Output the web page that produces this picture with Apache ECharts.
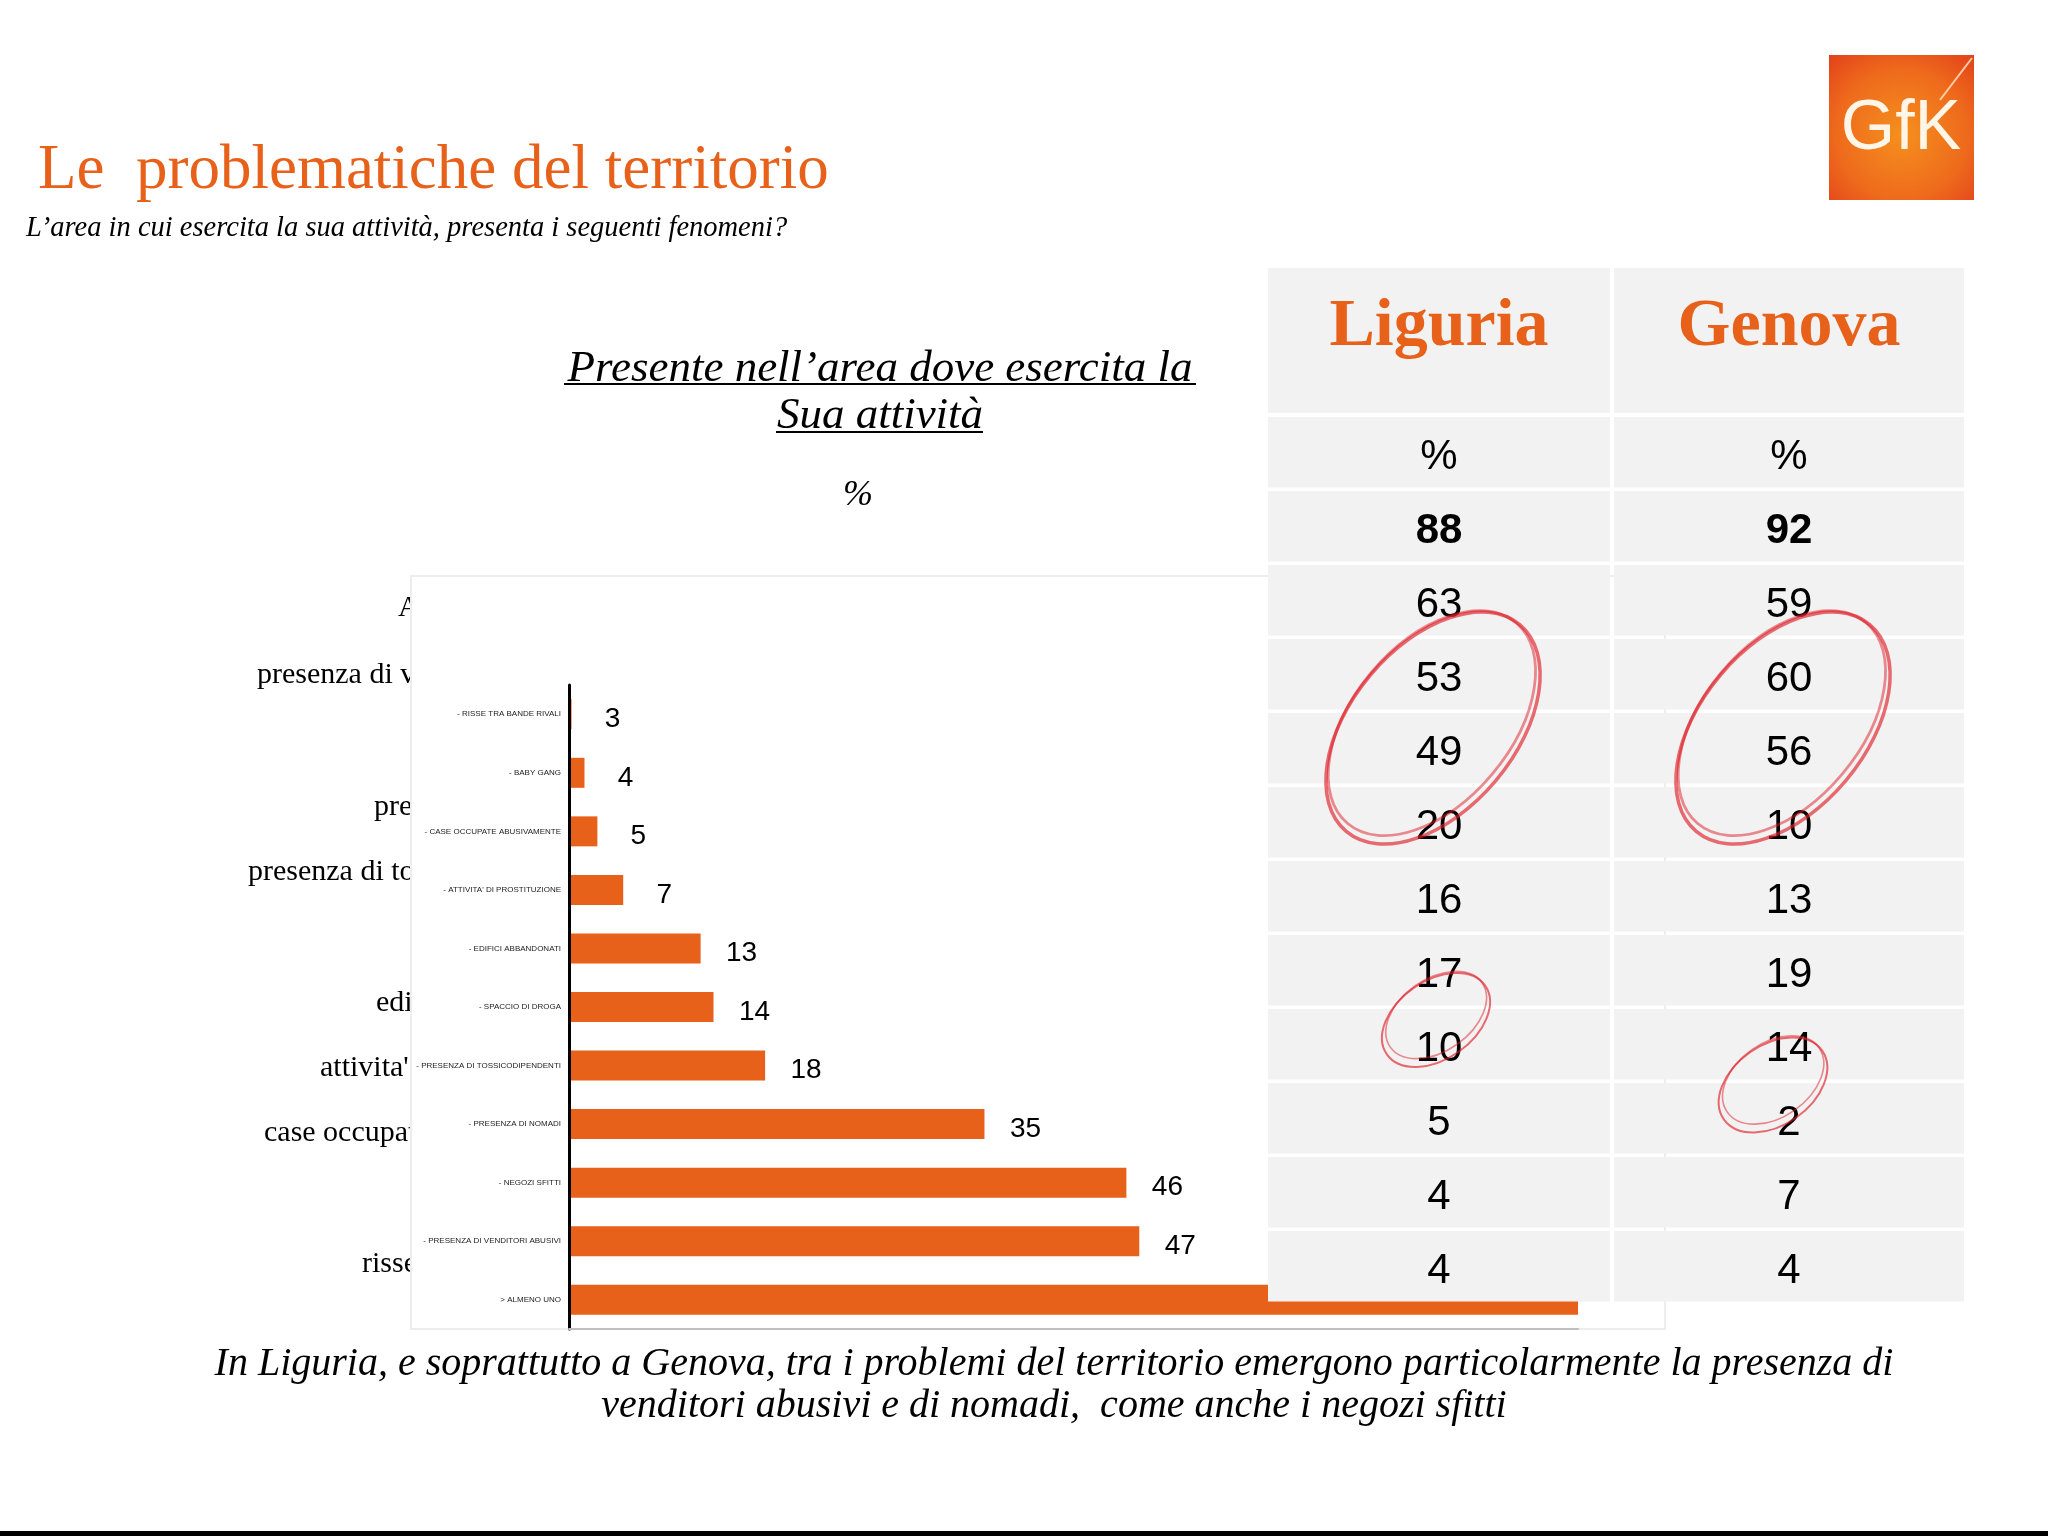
<!DOCTYPE html>
<html>
<head>
<meta charset="utf-8">
<script src="https://cdn.jsdelivr.net/npm/echarts@6/dist/echarts.min.js"></script>
<style>
  html, body { margin: 0; padding: 0; background: #fff; }
  #main { width: 2048px; height: 1536px; }
</style>
</head>
<body>
<div id="main"></div>
<script>
// bar chart (top to bottom)
const categories = [
  '- RISSE TRA BANDE RIVALI',
  '- BABY GANG',
  '- CASE OCCUPATE ABUSIVAMENTE',
  "- ATTIVITA' DI PROSTITUZIONE",
  '- EDIFICI ABBANDONATI',
  '- SPACCIO DI DROGA',
  '- PRESENZA DI TOSSICODIPENDENTI',
  '- PRESENZA DI NOMADI',
  '- NEGOZI SFITTI',
  '- PRESENZA DI VENDITORI ABUSIVI',
  '> ALMENO UNO'
];
const values = [3, 4, 5, 7, 13, 14, 18, 35, 46, 47, 81];

// table on the right
const tableHead = ['Liguria', 'Genova'];
const liguria = ['%', 88, 63, 53, 49, 20, 16, 17, 10, 5, 4, 4];
const genova = ['%', 92, 59, 60, 56, 10, 13, 19, 14, 2, 7, 4];

// labels of the old table hidden behind the chart box
const sideLabels = [
  'ALMENO UNO', 'presenza di venditori abusivi', 'presenza di nomadi',
  'presenza di tossicodipendenti', 'edifici abbandonati',
  "attivita' di prostituzione", 'case occupate abusivamente', 'risse tra bande rivali'
];
const sidePos = [[398, 608], [257, 675], [374, 807], [248, 872], [376, 1003], [320, 1068], [264, 1133], [362, 1264]];

const ORANGE = '#E8611A';
const SERIF = '"Liberation Serif", "Times New Roman", serif';
const SANS = '"Liberation Sans", Arial, sans-serif';

const graphics = [];

// slide texts
graphics.push({
  type: 'text', x: 38, y: 171, z: 0,
  style: { text: 'Le  problematiche del territorio', font: '63px ' + SERIF, fill: ORANGE, textVerticalAlign: 'middle' }
});
graphics.push({
  type: 'text', x: 26, y: 229, z: 0,
  style: { text: "L\u2019area in cui esercita la sua attività, presenta i seguenti fenomeni?", font: 'italic 28.5px ' + SERIF, fill: '#000', textVerticalAlign: 'middle' }
});
graphics.push({
  type: 'text', x: 880, y: 369, z: 0,
  style: { text: "Presente nell\u2019area dove esercita la", font: 'italic 45px ' + SERIF, fill: '#000', textAlign: 'center', textVerticalAlign: 'middle' }
});
graphics.push({
  type: 'text', x: 880, y: 416, z: 0,
  style: { text: 'Sua attività', font: 'italic 45px ' + SERIF, fill: '#000', textAlign: 'center', textVerticalAlign: 'middle' }
});
graphics.push({ type: 'line', z: 0, shape: { x1: 564, y1: 384, x2: 1196, y2: 384 }, style: { stroke: '#000', lineWidth: 2 } });
graphics.push({ type: 'line', z: 0, shape: { x1: 776, y1: 432, x2: 983, y2: 432 }, style: { stroke: '#000', lineWidth: 2 } });
graphics.push({
  type: 'text', x: 858, y: 496, z: 0,
  style: { text: '%', font: 'italic 36px ' + SERIF, fill: '#000', textAlign: 'center', textVerticalAlign: 'middle' }
});
graphics.push({
  type: 'text', x: 1054, y: 1364, z: 0,
  style: { text: 'In Liguria, e soprattutto a Genova, tra i problemi del territorio emergono particolarmente la presenza di', font: 'italic 40px ' + SERIF, fill: '#000', textAlign: 'center', textVerticalAlign: 'middle' }
});
graphics.push({
  type: 'text', x: 1054, y: 1406, z: 0,
  style: { text: 'venditori abusivi e di nomadi,  come anche i negozi sfitti', font: 'italic 40px ' + SERIF, fill: '#000', textAlign: 'center', textVerticalAlign: 'middle' }
});
graphics.push({ type: 'rect', z: 0, shape: { x: 0, y: 1531, width: 2048, height: 5 }, style: { fill: '#000' } });

// logo
graphics.push({
  type: 'rect', z: 0, shape: { x: 1829, y: 55, width: 145, height: 145 },
  style: {
    fill: {
      type: 'radial', x: 0.5, y: 0.55, r: 0.75,
      colorStops: [{ offset: 0, color: '#F5901E' }, { offset: 0.6, color: '#EE6A1C' }, { offset: 1, color: '#E2401A' }]
    }
  }
});
graphics.push({ type: 'line', z: 0, shape: { x1: 1940, y1: 100, x2: 1972, y2: 58 }, style: { stroke: 'rgba(255,235,200,0.8)', lineWidth: 2 } });
graphics.push({
  type: 'text', x: 1901, y: 130, z: 0,
  style: { text: 'GfK', font: '300 70px ' + SANS, fill: '#FFF6E8', textAlign: 'center', textVerticalAlign: 'middle' }
});

// old labels, then the white chart box over them
sideLabels.forEach(function (t, i) {
  graphics.push({
    type: 'text', x: sidePos[i][0], y: sidePos[i][1], z: 0,
    style: { text: t, font: '30px ' + SERIF, fill: '#000', textVerticalAlign: 'middle' }
  });
});
graphics.push({
  type: 'rect', z: 1, shape: { x: 411, y: 576, width: 1254, height: 753 },
  style: { fill: '#fff', stroke: '#ededed', lineWidth: 2 }
});

// table
const colX = [1268, 1614];
const colW = [342, 350];
const headTop = 268, headH = 145, rowTop = 417, rowPitch = 74, rowH = 70.5;
[liguria, genova].forEach(function (col, c) {
  const cx = colX[c] + colW[c] / 2;
  graphics.push({ type: 'rect', z: 10, shape: { x: colX[c], y: headTop, width: colW[c], height: headH }, style: { fill: '#F2F2F2' } });
  graphics.push({
    type: 'text', x: cx, y: 327, z: 11,
    style: { text: tableHead[c], font: 'bold 68px ' + SERIF, fill: ORANGE, textAlign: 'center', textVerticalAlign: 'middle' }
  });
  col.forEach(function (v, r) {
    const y = rowTop + r * rowPitch;
    graphics.push({ type: 'rect', z: 10, shape: { x: colX[c], y: y, width: colW[c], height: rowH }, style: { fill: '#F2F2F2' } });
    graphics.push({
      type: 'text', x: cx, y: y + rowH / 2 + 5, z: 11,
      style: { text: String(v), font: (r === 1 ? 'bold ' : '') + '42px ' + SANS, fill: '#000', textAlign: 'center', textVerticalAlign: 'middle' }
    });
  });
});

// hand drawn circles
function ring(cx, cy, a, b, deg, w) {
  const rot = deg * Math.PI / 180;
  return {
    type: 'group', x: cx, y: cy, rotation: rot,
    children: [
      { type: 'ellipse', z: 20, shape: { cx: 0, cy: 0, rx: a, ry: b }, style: { fill: 'transparent', stroke: 'rgba(222,30,40,0.65)', lineWidth: w } },
      { type: 'ellipse', z: 20, shape: { cx: 3, cy: -4, rx: a - 4, ry: b - 3 }, style: { fill: 'transparent', stroke: 'rgba(222,30,40,0.5)', lineWidth: w * 0.8 } }
    ]
  };
}
graphics.push(ring(1433, 728, 135, 82, 50, 3.5));
graphics.push(ring(1783, 728, 135, 82, 50, 3.5));
graphics.push(ring(1436, 1020, 60, 39, 35, 2));
graphics.push(ring(1773, 1085, 60, 40, 35, 2));

const barData = values.map(function (v, i) {
  // the last label sits under the table in the slide
  return i === values.length - 1 ? { value: v, label: { show: false } } : v;
});

const chart = echarts.init(document.getElementById('main'));
chart.setOption({
  backgroundColor: '#fff',
  animation: false,
  grid: { left: 569, top: 685, width: 1009, height: 644 },
  xAxis: {
    type: 'value', min: 2.8, max: 81, z: 3,
    axisLine: { show: true, lineStyle: { color: '#bfbfbf', width: 2 } },
    axisTick: { show: false },
    axisLabel: { show: false },
    splitLine: { show: false }
  },
  yAxis: {
    type: 'category', data: categories, inverse: true, z: 3,
    axisLine: { lineStyle: { color: '#000', width: 3 } },
    axisTick: { length: 8, lineStyle: { color: '#000', width: 3 } },
    axisLabel: { fontSize: 8, color: '#222', fontFamily: SANS, margin: 8 }
  },
  series: [{
    type: 'bar',
    data: barData,
    barWidth: 30,
    itemStyle: { color: ORANGE },
    label: {
      show: true, position: 'right', distance: 41, align: 'center', offset: [0, 5],
      fontSize: 28, fontFamily: SANS, color: '#000'
    },
    z: 2
  }],
  graphic: graphics
});
</script>
</body>
</html>
